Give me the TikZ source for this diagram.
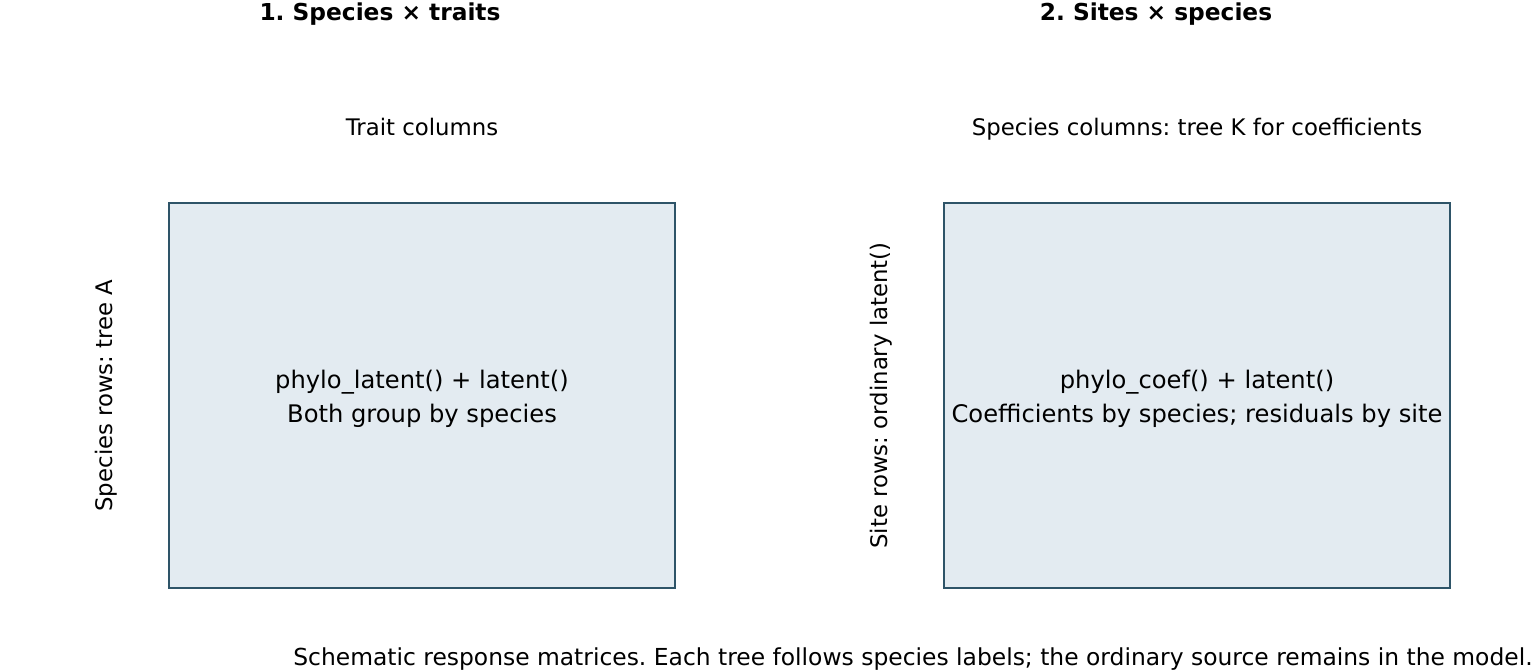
\documentclass[tikz,border=0pt]{standalone}
\usepackage{fontspec}
\setmainfont{DejaVu Sans}
\definecolor{boxline}{HTML}{2E5468}
\definecolor{boxfill}{HTML}{E3EBF1}
\frenchspacing
\begin{document}
\begin{tikzpicture}[x=0.5pt,y=-0.5pt,
  mat/.style={draw=boxline,fill=boxfill,line width=1.3pt,inner sep=0pt},
  lbl/.style={font=\fontsize{11.4}{14}\selectfont,inner sep=0pt,anchor=base},
  inlbl/.style={font=\fontsize{12.1}{14}\selectfont,inner sep=0pt,anchor=base},
  captext/.style={font=\fontsize{11.7}{14}\selectfont,inner sep=0pt,anchor=base},
  ttl/.style={font=\bfseries\fontsize{11.65}{14}\selectfont,inner sep=0pt,anchor=base},
  vlbl/.style={font=\fontsize{11.4}{14}\selectfont,inner sep=0pt,rotate=90,anchor=base}]
\useasboundingbox (0,0) rectangle (1536,672);
% matrices
\path[mat] (169,203) rectangle (675,588);
\path[mat] (944,203) rectangle (1450,588);
% titles
\node[ttl] (t1) at (380,21) {1. Species × traits};
\node[ttl] (t2) at (1156,21) {2. Sites × species};
% column labels
\node[lbl] (c1) at (422,136) {Trait columns};
\node[lbl] (c2) at (1197,136) {Species columns: tree K for coefficients};
% row labels
\node[vlbl] (r1) at (112,395.5) {Species rows: tree A};
\node[vlbl] (r2) at (887,395.5) {Site rows: ordinary latent()};
% box texts
\node[inlbl] (b1a) at (422,389) {phylo\_latent() + latent()};
\node[inlbl] (b1b) at (422,423) {Both group by species};
\node[inlbl] (b2a) at (1197,389) {phylo\_coef() + latent()};
\node[inlbl] (b2b) at (1197,423) {Coefficients by species; residuals by site};
% caption
\node[captext] (capt) at (913,666) {Schematic response matrices. Each tree follows species labels; the ordinary source remains in the model.};
\end{tikzpicture}
\end{document}
